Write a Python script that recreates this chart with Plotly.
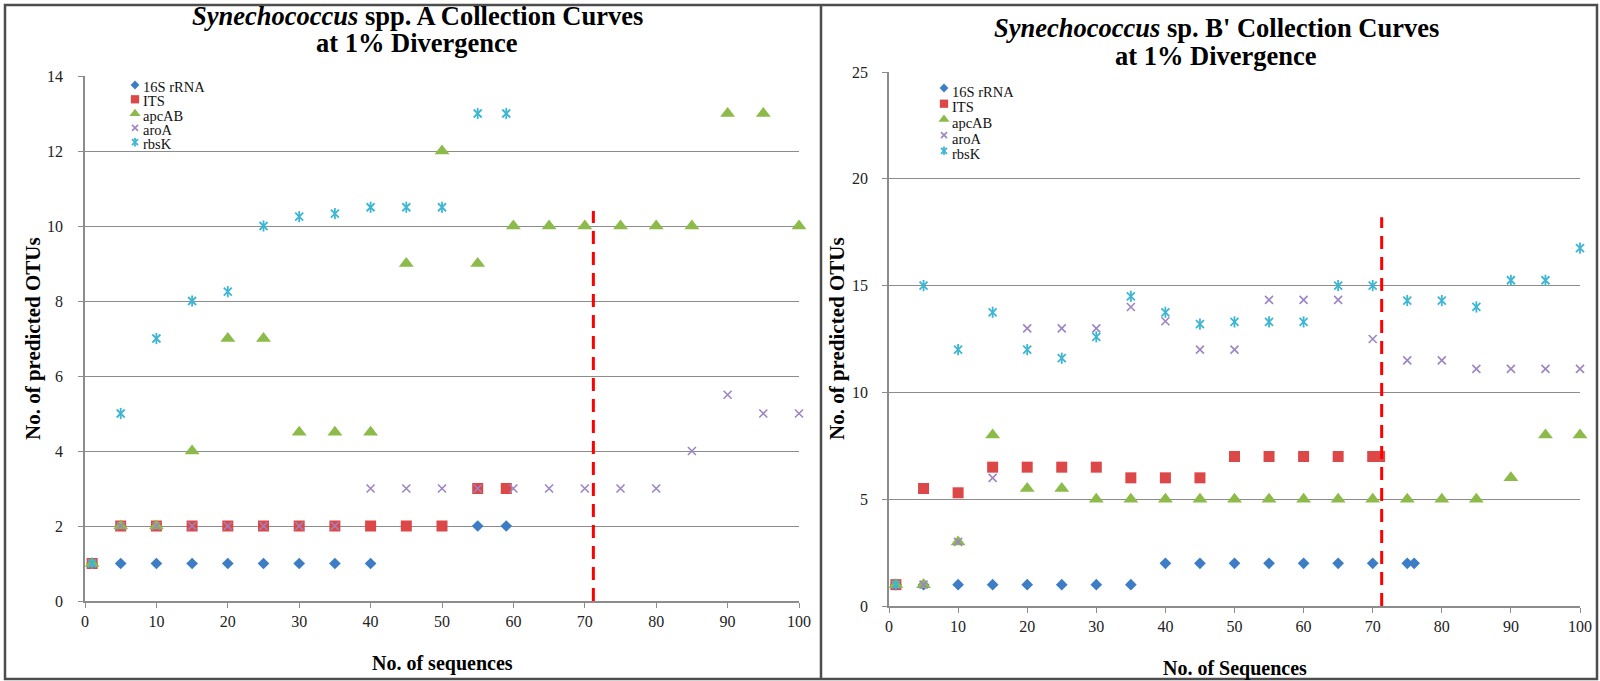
import plotly.graph_objects as go

# ---- Synechococcus spp. A (left panel) ----
a_16s_x = [1, 5, 10, 15, 20, 25, 30, 35, 40, 55, 59]
a_16s_y = [1, 1, 1, 1, 1, 1, 1, 1, 1, 2, 2]
a_its_x = [1, 5, 10, 15, 20, 25, 30, 35, 40, 45, 50, 55, 59]
a_its_y = [1, 2, 2, 2, 2, 2, 2, 2, 2, 2, 2, 3, 3]
a_apc_x = [1, 5, 10, 15, 20, 25, 30, 35, 40, 45, 50, 55, 60, 65, 70, 75, 80, 85, 90, 95, 100]
a_apc_y = [1, 2, 2, 4, 7, 7, 4.5, 4.5, 4.5, 9, 12, 9, 10, 10, 10, 10, 10, 10, 13, 13, 10]
a_aro_x = [1, 5, 10, 15, 20, 25, 30, 35, 40, 45, 50, 55, 60, 65, 70, 75, 80, 85, 90, 95, 100]
a_aro_y = [1, 2, 2, 2, 2, 2, 2, 2, 3, 3, 3, 3, 3, 3, 3, 3, 3, 4, 5.5, 5, 5]
a_rbs_x = [1, 5, 10, 15, 20, 25, 30, 35, 40, 45, 50, 55, 59]
a_rbs_y = [1, 5, 7, 8, 8.25, 10, 10.25, 10.33, 10.5, 10.5, 10.5, 13, 13]

# ---- Synechococcus sp. B' (right panel) ----
b_16s_x = [1, 5, 10, 15, 20, 25, 30, 35, 40, 45, 50, 55, 60, 65, 70, 75, 76]
b_16s_y = [1, 1, 1, 1, 1, 1, 1, 1, 2, 2, 2, 2, 2, 2, 2, 2, 2]
b_its_x = [1, 5, 10, 15, 20, 25, 30, 35, 40, 45, 50, 55, 60, 65, 70, 71]
b_its_y = [1, 5.5, 5.3, 6.5, 6.5, 6.5, 6.5, 6, 6, 6, 7, 7, 7, 7, 7, 7]
b_apc_x = [1, 5, 10, 15, 20, 25, 30, 35, 40, 45, 50, 55, 60, 65, 70, 75, 80, 85, 90, 95, 100]
b_apc_y = [1, 1, 3, 8, 5.5, 5.5, 5, 5, 5, 5, 5, 5, 5, 5, 5, 5, 5, 5, 6, 8, 8]
b_aro_x = [1, 5, 10, 15, 20, 25, 30, 35, 40, 45, 50, 55, 60, 65, 70, 75, 80, 85, 90, 95, 100]
b_aro_y = [1, 1, 3, 6, 13, 13, 13, 14, 13.33, 12, 12, 14.33, 14.33, 14.33, 12.5, 11.5, 11.5,
           11.1, 11.1, 11.1, 11.1]
b_rbs_x = [1, 5, 10, 15, 20, 25, 30, 35, 40, 45, 50, 55, 60, 65, 70, 75, 80, 85, 90, 95, 100]
b_rbs_y = [1, 15, 12, 13.75, 12, 11.6, 12.6, 14.5, 13.75, 13.2, 13.3, 13.3, 13.3, 15, 15,
           14.3, 14.3, 14, 15.25, 15.25, 16.75]

gene_names = ["16S rRNA", "ITS", "apcAB", "aroA", "rbsK"]
x_ticks = [0, 10, 20, 30, 40, 50, 60, 70, 80, 90, 100]
a_y_ticks = [0, 2, 4, 6, 8, 10, 12, 14]
b_y_ticks = [0, 5, 10, 15, 20, 25]

# vertical cut-off markers (sequence count, top of dashed line)
a_cutoff = (71.2, 10.4)
b_cutoff = (71.3, 18.2)

titles_a = ("<i>Synechococcus</i> spp. A Collection Curves", "at 1% Divergence")
titles_b = ("<i>Synechococcus</i> sp. B' Collection Curves", "at 1% Divergence")

W, H = 1600, 681
SERIF = "Liberation Serif, Times New Roman, serif"

colors = ["#3d7dc6", "#dc4747", "#8dbb4a", "#9c85c3", "#3db6d3"]

# symbol styling per gene (asterisk = x plus vertical bar)
styles = [
    dict(symbol="diamond", size=9),
    dict(symbol="square", size=11),
    dict(symbol="triangle-up", size=13),
    dict(symbol="x-thin-open", size=8),
    None,
]


def px_x(p):
    return p / W


def px_y(p):
    return 1 - p / H


fig = go.Figure()


def add_series(xs, ys, idx, xa, ya, scale=1.0):
    c = colors[idx]
    if idx == 4:
        for sym in ("x-thin-open", "line-ns-open"):
            fig.add_trace(go.Scatter(
                x=xs, y=ys, mode="markers", xaxis=xa, yaxis=ya, showlegend=False,
                cliponaxis=False, hoverinfo="skip",
                marker=dict(symbol=sym, size=8 * scale, color=c,
                            line=dict(width=1.8, color=c))))
    else:
        st = styles[idx]
        fig.add_trace(go.Scatter(
            x=xs, y=ys, mode="markers", xaxis=xa, yaxis=ya, showlegend=False,
            cliponaxis=False, name=gene_names[idx],
            marker=dict(symbol=st["symbol"], size=st["size"] * scale, color=c,
                        line=dict(width=1.6 if "open" in st["symbol"] else 0, color=c))))


a_sets = [(a_16s_x, a_16s_y), (a_its_x, a_its_y), (a_apc_x, a_apc_y),
          (a_aro_x, a_aro_y), (a_rbs_x, a_rbs_y)]
b_sets = [(b_16s_x, b_16s_y), (b_its_x, b_its_y), (b_apc_x, b_apc_y),
          (b_aro_x, b_aro_y), (b_rbs_x, b_rbs_y)]

for i, (xs, ys) in enumerate(a_sets):
    add_series(xs, ys, i, "x", "y")
for i, (xs, ys) in enumerate(b_sets):
    add_series(xs, ys, i, "x2", "y2")

# ---- in-plot legends drawn on a pixel-space overlay axis ----
legends = [
    dict(x=135, y0=85, dy=14.3, tx=141, tdy=2.0),
    dict(x=944, y0=88, dy=15.7, tx=950, tdy=3.5),
]
annotations = []
for lg in legends:
    for i, name in enumerate(gene_names):
        yy = lg["y0"] + i * lg["dy"]
        add_series([lg["x"]], [yy], i, "x3", "y3", scale=0.75)
        annotations.append(dict(
            x=lg["tx"], y=yy + lg["tdy"], xref="x3", yref="y3", text=name,
            showarrow=False, xanchor="left", yanchor="middle",
            font=dict(family=SERIF, size=14.5, color="#111")))

# ---- titles and axis titles ----
title_pos = [(417, 16, 43, titles_a), (1216, 28, 56, titles_b)]
for cx, y1, y2, (l1, l2) in title_pos:
    for yy, txt in ((y1, l1), (y2, l2)):
        annotations.append(dict(
            x=cx, y=yy, xref="x3", yref="y3", text="<b>" + txt + "</b>",
            showarrow=False, xanchor="center", yanchor="middle",
            font=dict(family=SERIF, size=26.5, color="#000")))

for cx, cy, txt in ((442, 663, "No. of sequences"), (1235, 668, "No. of Sequences")):
    annotations.append(dict(
        x=cx, y=cy, xref="x3", yref="y3", text="<b>" + txt + "</b>",
        showarrow=False, xanchor="center", yanchor="middle",
        font=dict(family=SERIF, size=20, color="#000")))
for cx, cy in ((33, 339), (837, 339)):
    annotations.append(dict(
        x=cx, y=cy, xref="x3", yref="y3", text="<b>No. of predicted OTUs</b>",
        showarrow=False, textangle=-90, xanchor="center", yanchor="middle",
        font=dict(family=SERIF, size=21, color="#000")))

GRID = "#8c8c8c"
axis_common = dict(showline=True, linecolor=GRID, linewidth=1.5, ticks="outside",
                   ticklen=5, tickcolor=GRID, tickwidth=1.2, zeroline=False,
                   automargin=False, fixedrange=True,
                   tickfont=dict(family=SERIF, size=16, color="#222"))

fig.update_layout(
    width=W, height=H, margin=dict(l=0, r=0, t=0, b=0),
    paper_bgcolor="white", plot_bgcolor="rgba(0,0,0,0)", showlegend=False,
    xaxis=dict(domain=[px_x(85), px_x(799)], range=[0, 100], tickvals=x_ticks,
               showgrid=False, anchor="y", **axis_common),
    yaxis=dict(domain=[px_y(601), px_y(76)], range=[0, 14], tickvals=a_y_ticks,
               showgrid=True, gridcolor=GRID, gridwidth=1, anchor="x",
               ticklabelstandoff=12, **axis_common),
    xaxis2=dict(domain=[px_x(889), px_x(1580)], range=[0, 100], tickvals=x_ticks,
                showgrid=False, anchor="y2", **axis_common),
    yaxis2=dict(domain=[px_y(606), px_y(72)], range=[0, 25], tickvals=b_y_ticks,
                showgrid=True, gridcolor=GRID, gridwidth=1, anchor="x2",
                ticklabelstandoff=11, **axis_common),
    xaxis3=dict(domain=[0, 1], range=[0, W], visible=False, fixedrange=True, anchor="y3"),
    yaxis3=dict(domain=[0, 1], range=[H, 0], visible=False, fixedrange=True, anchor="x3"),
    annotations=annotations,
)

# dashed cut-off lines
for (cx, cy), xr, yr in ((a_cutoff, "x", "y"), (b_cutoff, "x2", "y2")):
    fig.add_shape(type="line", xref=xr, yref=yr, x0=cx, x1=cx, y0=0, y1=cy,
                  line=dict(color="#ff0000", width=3, dash="13px,8px"))

# panel frames
FRAME = "#4d4d4d"
fig.add_shape(type="rect", xref="paper", yref="paper",
              x0=px_x(5), x1=px_x(1597), y0=px_y(679), y1=px_y(5),
              line=dict(color=FRAME, width=2.5))
fig.add_shape(type="line", xref="paper", yref="paper",
              x0=px_x(821), x1=px_x(821), y0=px_y(679), y1=px_y(5),
              line=dict(color=FRAME, width=2.5))

fig.write_html("out.html")
